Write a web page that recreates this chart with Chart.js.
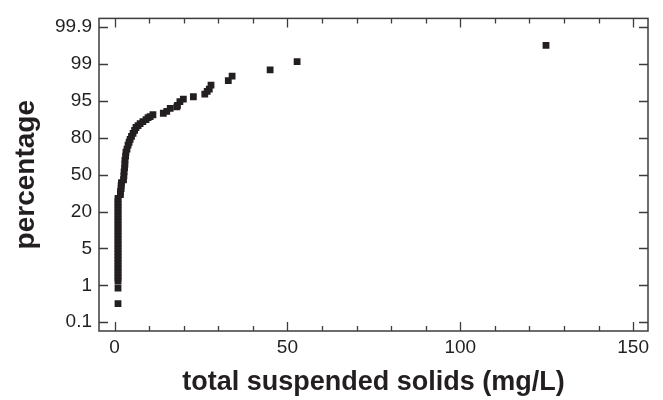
<!DOCTYPE html>
<html>
<head>
<meta charset="utf-8">
<script src="https://cdn.jsdelivr.net/npm/chart.js@4.4.0/dist/chart.umd.min.js"></script>
<style>
  html, body { margin: 0; padding: 0; background: #fff; }
  #wrap { width: 663px; height: 400px; }
</style>
</head>
<body>
<div id="wrap"><canvas id="canvas1" width="663" height="400"></canvas></div>
<script>
// probability axis labels (equally spaced on the chart)
var probTicks = [0.1, 1, 5, 20, 50, 80, 95, 99, 99.9];
var xTicks = [0, 10, 20, 30, 40, 50, 60, 70, 80, 90, 100, 110, 120, 130, 140, 150];

// total suspended solids (mg/L), sorted
var tss = [1.0, 1.0,
  1.0, 1.0, 1.0, 1.0, 1.0, 1.0, 1.0, 1.0, 1.0, 1.0, 1.0, 1.0, 1.0, 1.0, 1.0,
  1.0, 1.0, 1.0, 1.0, 1.0, 1.0, 1.0, 1.0, 1.0, 1.0, 1.0, 1.0, 1.0, 1.0,
  1.7, 1.7, 1.9, 1.9, 2.0,
  2.6, 2.7, 2.75, 2.9, 3.0, 3.0, 3.2, 3.3,
  3.6, 3.9, 4.2, 4.5, 4.9, 5.35, 5.8, 6.2, 6.8, 7.4, 8.2, 9.1, 9.7, 10.3, 11.1,
  14.1, 15.1, 16.1, 18.0, 18.2, 18.9, 19.9, 22.8, 26.1, 26.8, 27.4, 27.9,
  32.9, 34.0, 45.0, 52.8, 124.8];
// cumulative percentage
var pct = [0.55, 0.93,
  1.45, 1.78, 2.10, 2.42, 2.74, 3.06, 3.38, 3.70, 4.02, 4.34, 4.66, 4.98, 6.1, 7.3, 8.5,
  9.7, 10.9, 12.1, 13.3, 14.5, 15.7, 16.9, 18.1, 19.3, 21.1, 23.5, 25.9, 28.3, 30.7,
  33.9, 36.3, 38.7, 41.1, 43.5,
  45.9, 49.1, 52.3, 55.5, 58.7, 61.9, 65.1, 68.4,
  70.8, 74.0, 76.4, 78.8, 80.6, 81.8, 83.0, 84.2, 85.0, 85.8, 86.6, 87.4, 88.2, 88.6, 89.4,
  90.0, 90.8, 92.0, 92.6, 93.2, 94.7, 95.2, 95.46, 95.75, 96.04, 96.28, 96.71,
  97.21, 97.70, 98.38, 99.06, 99.46];

// percentage -> position on the probability axis (tick index)
function probPos(p){
    for(var i=0; i < probTicks.length - 1; i++){
        if(p <= probTicks[i+1]){
            return i + (p - probTicks[i]) / (probTicks[i+1] - probTicks[i]);
        }
    }
    return probTicks.length - 1;
}

var points = [];
for(var i=0; i < tss.length; i++){
    points.push({x: tss[i], y: probPos(pct[i])});
}

var ink = '#231f20';

// frame and inward ticks on all four sides
var frameTicks = {
    id: 'frameTicks',
    afterDraw: function(chart){
        var ctx = chart.ctx, a = chart.chartArea;
        var xs = chart.scales.x, ys = chart.scales.y;
        ctx.save();
        ctx.strokeStyle = '#3c3c3c';
        ctx.lineWidth = 1.5;
        ctx.strokeRect(a.left, a.top, a.right - a.left, a.bottom - a.top);
        ctx.lineWidth = 1.3;
        ctx.beginPath();
        xTicks.forEach(function(v){
            var px = Math.round(xs.getPixelForValue(v)) + 0.5;
            var len = (v % 50 === 0) ? 9 : 5;
            ctx.moveTo(px, a.bottom); ctx.lineTo(px, a.bottom - len);
            ctx.moveTo(px, a.top); ctx.lineTo(px, a.top + len);
        });
        probTicks.forEach(function(v, k){
            var py = Math.round(ys.getPixelForValue(k)) + 0.5;
            ctx.moveTo(a.left, py); ctx.lineTo(a.left + 9, py);
            ctx.moveTo(a.right, py); ctx.lineTo(a.right - 9, py);
        });
        ctx.stroke();
        ctx.restore();
    }
};

var ctx = document.getElementById('canvas1');
var chart = new Chart(ctx, {
    type: 'scatter',
    data: {
        datasets: [{
            label: 'TSS',
            data: points,
            pointStyle: 'rect',
            pointRadius: 4.8,
            pointBorderWidth: 0,
            backgroundColor: ink,
            borderColor: ink
        }]
    },
    options: {
        responsive: false,
        animation: false,
        layout: { padding: { top: 13, right: 15, left: 0, bottom: 0 } },
        plugins: { legend: { display: false }, tooltip: { enabled: false } },
        scales: {
            x: {
                type: 'linear',
                min: -4.5,
                max: 154.3,
                grid: { display: false, drawTicks: false },
                border: { display: false },
                afterBuildTicks: function(s){ s.ticks = xTicks.map(function(v){ return {value: v}; }); },
                afterFit: function(s){ s.height = 69; },
                ticks: {
                    autoSkip: false,
                    maxRotation: 0,
                    padding: 5,
                    color: ink,
                    font: { family: 'Liberation Sans, Arial, sans-serif', size: 19 },
                    callback: function(v){ return (v % 50 === 0) ? v : ''; }
                },
                title: {
                    display: true,
                    text: 'total suspended solids (mg/L)',
                    color: ink,
                    font: { family: 'Liberation Sans, Arial, sans-serif', size: 27, weight: 'bold' },
                    padding: { top: 0, bottom: 1 }
                }
            },
            y: {
                type: 'linear',
                min: -0.24,
                max: 8.24,
                grid: { display: false, drawTicks: false },
                border: { display: false },
                afterBuildTicks: function(s){ s.ticks = probTicks.map(function(v, k){ return {value: k}; }); },
                afterFit: function(s){ s.width = 99; },
                ticks: {
                    autoSkip: false,
                    padding: 7,
                    color: ink,
                    font: { family: 'Liberation Sans, Arial, sans-serif', size: 19 },
                    callback: function(v){ return probTicks[Math.round(v)]; }
                },
                title: {
                    display: true,
                    text: 'percentage',
                    color: ink,
                    font: { family: 'Liberation Sans, Arial, sans-serif', size: 28, weight: 'bold' },
                    padding: { top: 9, bottom: 0 }
                }
            }
        }
    },
    plugins: [frameTicks]
});
</script>
</body>
</html>
